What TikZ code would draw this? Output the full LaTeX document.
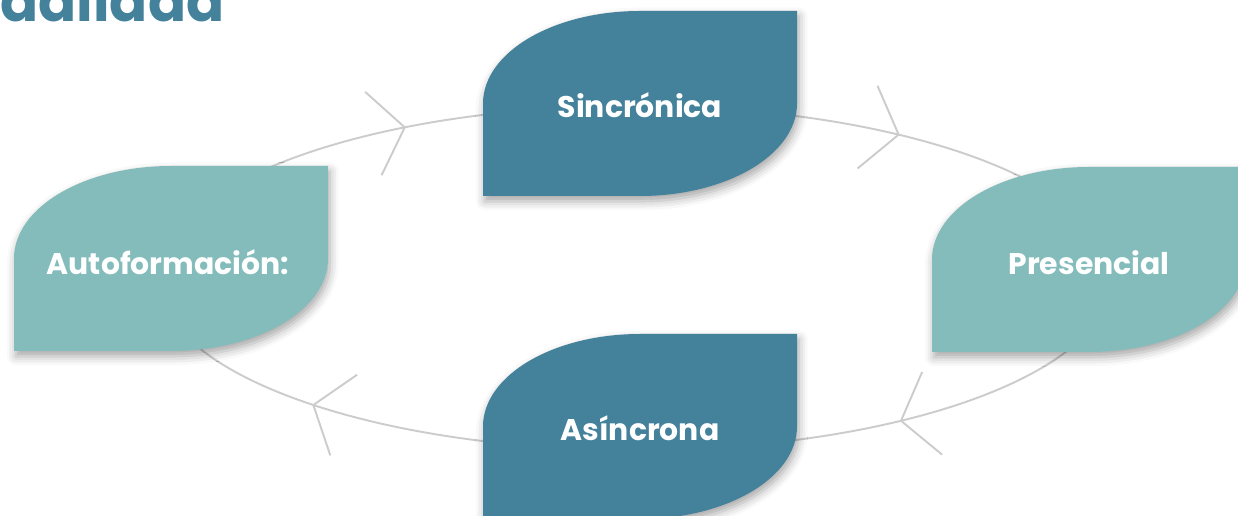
\documentclass[tikz,border=0pt]{standalone}
\usepackage{fontspec}
\setmainfont{Poppins}
\usetikzlibrary{calc,shadows.blur,arrows.meta,decorations.markings}
\definecolor{modeDark}{HTML}{44819B}
\definecolor{modeLight}{HTML}{84BCBC}
\definecolor{cycleGray}{HTML}{CCCCCC}

\begin{document}
\begin{tikzpicture}[x=0.02cm,y=-0.02cm,
                    chev/.tip={Straight Barb[length=6.4mm,width=17mm]},
                    leaf/.style={blur shadow={shadow xshift=1pt,shadow yshift=-3pt,shadow blur radius=5pt,shadow opacity=35}},
                    leaf dark/.style={leaf,fill=modeDark},
                    leaf light/.style={leaf,fill=modeLight},
                    leaf label/.style={font=\bfseries\fontsize{17}{20}\selectfont,text=white},
                    cycle line/.style={draw=cycleGray,line width=1.1pt,postaction={decorate},
                        decoration={markings,
                            mark=at position 0.126 with {\arrow{chev}},
                            mark=at position 0.402 with {\arrow{chev}},
                            mark=at position 0.643 with {\arrow{chev}},
                            mark=at position 0.874 with {\arrow{chev}}}}]
            \useasboundingbox (0,0) rectangle (1238,516);
            \clip (0,0) rectangle (1238,516);
            \node[anchor=base west,inner sep=0pt,font=\bfseries\fontsize{32}{36}\selectfont,text=modeDark] (title) at (0,22) {dalidad};
            % the cycle behind the four modes
            \coordinate (hub) at (635,278);
            \path[cycle line] (hub) ellipse [x radius=477,y radius=172];
            % leaf boxes, top left corners
            \coordinate (sinc box) at (483,11);
            \coordinate (pres box) at (932,167);
            \coordinate (asin box) at (483,334);
            \coordinate (auto box) at (14,166);
            \path[leaf dark] ($ (sinc box) + (0,185) $) -- ++(0,-92.5) arc[start angle=180,end angle=270,x radius=157,y radius=92.5] -- ++(157,0) -- ++(0,92.5) arc[start angle=0,end angle=90,x radius=157,y radius=92.5] -- cycle;
            \path[leaf light] ($ (pres box) + (0,185) $) -- ++(0,-92.5) arc[start angle=180,end angle=270,x radius=157,y radius=92.5] -- ++(157,0) -- ++(0,92.5) arc[start angle=0,end angle=90,x radius=157,y radius=92.5] -- cycle;
            \path[leaf dark] ($ (asin box) + (0,185) $) -- ++(0,-92.5) arc[start angle=180,end angle=270,x radius=157,y radius=92.5] -- ++(157,0) -- ++(0,92.5) arc[start angle=0,end angle=90,x radius=157,y radius=92.5] -- cycle;
            \path[leaf light] ($ (auto box) + (0,185) $) -- ++(0,-92.5) arc[start angle=180,end angle=270,x radius=157,y radius=92.5] -- ++(157,0) -- ++(0,92.5) arc[start angle=0,end angle=90,x radius=157,y radius=92.5] -- cycle;
            \node[leaf label] (sinc) at ($ (sinc box) + (157,94) $) {Sincrónica};
            \node[leaf label] (pres) at ($ (pres box) + (157,96) $) {Presencial};
            \node[leaf label] (asin) at ($ (asin box) + (157,94) $) {Asíncrona};
            \node[leaf label] (auto) at ($ (auto box) + (154,96) $) {Autoformación:};

        \end{tikzpicture}
\end{document}
